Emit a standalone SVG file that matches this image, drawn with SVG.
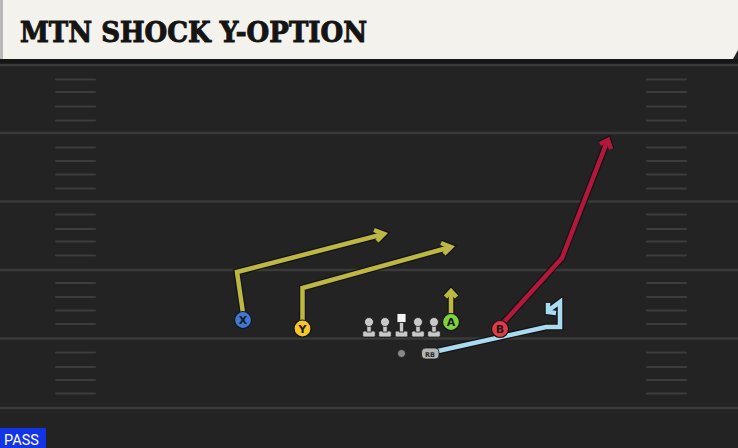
<svg xmlns="http://www.w3.org/2000/svg" width="738" height="448" viewBox="0 0 738 448">
<style>
.yard{stroke:#3a3a3a;stroke-width:2.5}
.hash{stroke:#3c3c3c;stroke-width:2;stroke-linecap:round}
.under{fill:none;stroke:#141414;stroke-width:7;stroke-linejoin:miter;stroke-linecap:butt}
.route{fill:none;stroke-width:4.5;stroke-linejoin:miter;stroke-linecap:butt}
.lbl{font-family:"DejaVu Sans",sans-serif;font-weight:bold;font-size:11px;fill:#1a1a1a;text-anchor:middle}
.pl{stroke:#151515;stroke-width:1.2}
.ol{fill:#c9c9c9;stroke:#1a1a1a;stroke-width:0.8}
</style>
<defs>
<g id="lineman">
<rect class="ol" x="-6.3" y="8" width="12.6" height="6" rx="1.5"/>
<rect class="ol" x="-2.2" y="-1" width="4.4" height="10"/>
<circle class="ol" cx="0" cy="-1" r="4.5"/>
</g>
</defs>
<rect x="0" y="0" width="738" height="448" fill="#232323"/>
<g id="header">
<path d="M0 0 H738 V50 L733 59 H0 Z" fill="#f4f2ec"/>
<rect x="0" y="0" width="3" height="59" fill="#b8b8b8"/>
<rect x="0" y="59" width="738" height="5" fill="#161616"/>
<text x="20" y="42" font-family="DejaVu Serif, serif" font-weight="bold" font-size="28" fill="#141414" stroke="#141414" stroke-width="1" textLength="347" lengthAdjust="spacingAndGlyphs">MTN SHOCK Y-OPTION</text>
</g>
<g id="field">
<line class="yard" x1="0" y1="65" x2="738" y2="65"/>
<line class="yard" x1="0" y1="133" x2="738" y2="133"/>
<line class="yard" x1="0" y1="201.5" x2="738" y2="201.5"/>
<line class="yard" x1="0" y1="270" x2="738" y2="270"/>
<line class="yard" x1="0" y1="338.5" x2="738" y2="338.5"/>
<line class="yard" x1="0" y1="408" x2="738" y2="408"/>
<g id="hashes-left">
<line class="hash" x1="56" y1="79.5" x2="95" y2="79.5"/><line class="hash" x1="56" y1="92" x2="95" y2="92"/><line class="hash" x1="56" y1="106.5" x2="95" y2="106.5"/><line class="hash" x1="56" y1="120.5" x2="95" y2="120.5"/>
<line class="hash" x1="56" y1="147.5" x2="95" y2="147.5"/><line class="hash" x1="56" y1="161" x2="95" y2="161"/><line class="hash" x1="56" y1="174.5" x2="95" y2="174.5"/><line class="hash" x1="56" y1="188.5" x2="95" y2="188.5"/>
<line class="hash" x1="56" y1="214.5" x2="95" y2="214.5"/><line class="hash" x1="56" y1="229" x2="95" y2="229"/><line class="hash" x1="56" y1="241.5" x2="95" y2="241.5"/><line class="hash" x1="56" y1="255.5" x2="95" y2="255.5"/>
<line class="hash" x1="56" y1="283" x2="95" y2="283"/><line class="hash" x1="56" y1="297" x2="95" y2="297"/><line class="hash" x1="56" y1="310.5" x2="95" y2="310.5"/><line class="hash" x1="56" y1="324" x2="95" y2="324"/>
<line class="hash" x1="56" y1="352.5" x2="95" y2="352.5"/><line class="hash" x1="56" y1="367" x2="95" y2="367"/><line class="hash" x1="56" y1="380" x2="95" y2="380"/><line class="hash" x1="56" y1="393.5" x2="95" y2="393.5"/>
</g>
<g id="hashes-right">
<line class="hash" x1="647" y1="79.5" x2="686" y2="79.5"/><line class="hash" x1="647" y1="92" x2="686" y2="92"/><line class="hash" x1="647" y1="106.5" x2="686" y2="106.5"/><line class="hash" x1="647" y1="120.5" x2="686" y2="120.5"/>
<line class="hash" x1="647" y1="147.5" x2="686" y2="147.5"/><line class="hash" x1="647" y1="161" x2="686" y2="161"/><line class="hash" x1="647" y1="174.5" x2="686" y2="174.5"/><line class="hash" x1="647" y1="188.5" x2="686" y2="188.5"/>
<line class="hash" x1="647" y1="214.5" x2="686" y2="214.5"/><line class="hash" x1="647" y1="229" x2="686" y2="229"/><line class="hash" x1="647" y1="241.5" x2="686" y2="241.5"/><line class="hash" x1="647" y1="255.5" x2="686" y2="255.5"/>
<line class="hash" x1="647" y1="283" x2="686" y2="283"/><line class="hash" x1="647" y1="297" x2="686" y2="297"/><line class="hash" x1="647" y1="310.5" x2="686" y2="310.5"/><line class="hash" x1="647" y1="324" x2="686" y2="324"/>
<line class="hash" x1="647" y1="352.5" x2="686" y2="352.5"/><line class="hash" x1="647" y1="367" x2="686" y2="367"/><line class="hash" x1="647" y1="380" x2="686" y2="380"/><line class="hash" x1="647" y1="393.5" x2="686" y2="393.5"/>
</g>
</g>
<g id="connectors">
<path class="under" d="M243 313 L237 272 L382 234.5"/>
<path class="under" d="M374 230 L384 233.8 L377 241"/>
<path class="route" stroke="#bcb843" d="M243 313 L237 272 L382 234.5"/>
<path class="route" stroke="#bcb843" d="M374 230 L384 233.8 L377 241"/>
<path class="under" d="M302.5 320 L302.5 288 L449 247.5"/>
<path class="under" d="M441 243 L451 247 L444 254"/>
<path class="route" stroke="#bcb843" d="M302.5 320 L302.5 288 L449 247.5"/>
<path class="route" stroke="#bcb843" d="M441 243 L451 247 L444 254"/>
<path class="under" d="M451 313 L451 291"/>
<path class="under" d="M445.5 297 L451 291 L456.5 297"/>
<path class="route" stroke="#bcb843" d="M451 313 L451 291"/>
<path class="route" stroke="#bcb843" d="M445.5 297 L451 291 L456.5 297"/>
<path class="under" d="M504 322 L562 258 L607 142"/>
<path class="under" d="M600 144 L608 140 L611 149"/>
<path class="route" stroke="#b3173b" d="M504 322 L562 258 L607 142"/>
<path class="route" stroke="#b3173b" d="M600 144 L608 140 L611 149"/>
<path class="under" d="M438 351 L546 327 L560 327 L560 302 L549 310"/>
<path class="under" d="M548 303 L548 312 L556 313"/>
<path class="route" stroke="#a9dcf0" d="M438 351 L546 327 L560 327 L560 302 L549 310"/>
<path class="route" stroke="#a9dcf0" d="M548 303 L548 312 L556 313"/>
</g>
<g id="node-X"><circle class="pl" cx="243" cy="320" r="8.5" fill="#3f77d6"/><text class="lbl" x="243" y="324">X</text></g>
<g id="node-Y"><circle class="pl" cx="302.5" cy="328.5" r="8.5" fill="#f5c52a"/><text class="lbl" x="302.5" y="332.5">Y</text></g>
<g id="node-A"><circle class="pl" cx="451" cy="322" r="8.5" fill="#7fd23c"/><text class="lbl" x="451" y="326">A</text></g>
<g id="node-B"><circle class="pl" cx="500" cy="329" r="8.5" fill="#e23a46"/><text class="lbl" x="500" y="333">B</text></g>
<g id="node-LT"><use href="#lineman" x="369" y="323"/></g>
<g id="node-LG"><use href="#lineman" x="385" y="323"/></g>
<g id="node-C">
<rect class="ol" x="395.2" y="331" width="12.6" height="6" rx="1.5"/>
<rect class="ol" x="399.3" y="322" width="4.4" height="10"/>
<rect x="397" y="313.5" width="9" height="9" fill="#f4f4f4" stroke="#1a1a1a" stroke-width="0.8"/>
</g>
<g id="node-RG"><use href="#lineman" x="418" y="323"/></g>
<g id="node-RT"><use href="#lineman" x="434" y="323"/></g>
<g id="node-QB"><circle cx="401.5" cy="353.5" r="4" fill="#8a8a8a" stroke="#1a1a1a" stroke-width="0.8"/></g>
<g id="node-RB"><rect x="421.5" y="348" width="17.5" height="11" rx="4" fill="#b5b5b5" stroke="#1a1a1a" stroke-width="0.8"/><text x="430" y="356.5" font-family="DejaVu Sans, sans-serif" font-weight="bold" font-size="6.5" fill="#2a2a2a" text-anchor="middle">RB</text></g>
<g id="pass-label"><rect x="0" y="428" width="46" height="20" fill="#1234e6"/><text x="4" y="444.5" font-family="Roboto, 'Liberation Sans', sans-serif" font-size="14.5" fill="#ffffff">PASS</text></g>
</svg>
